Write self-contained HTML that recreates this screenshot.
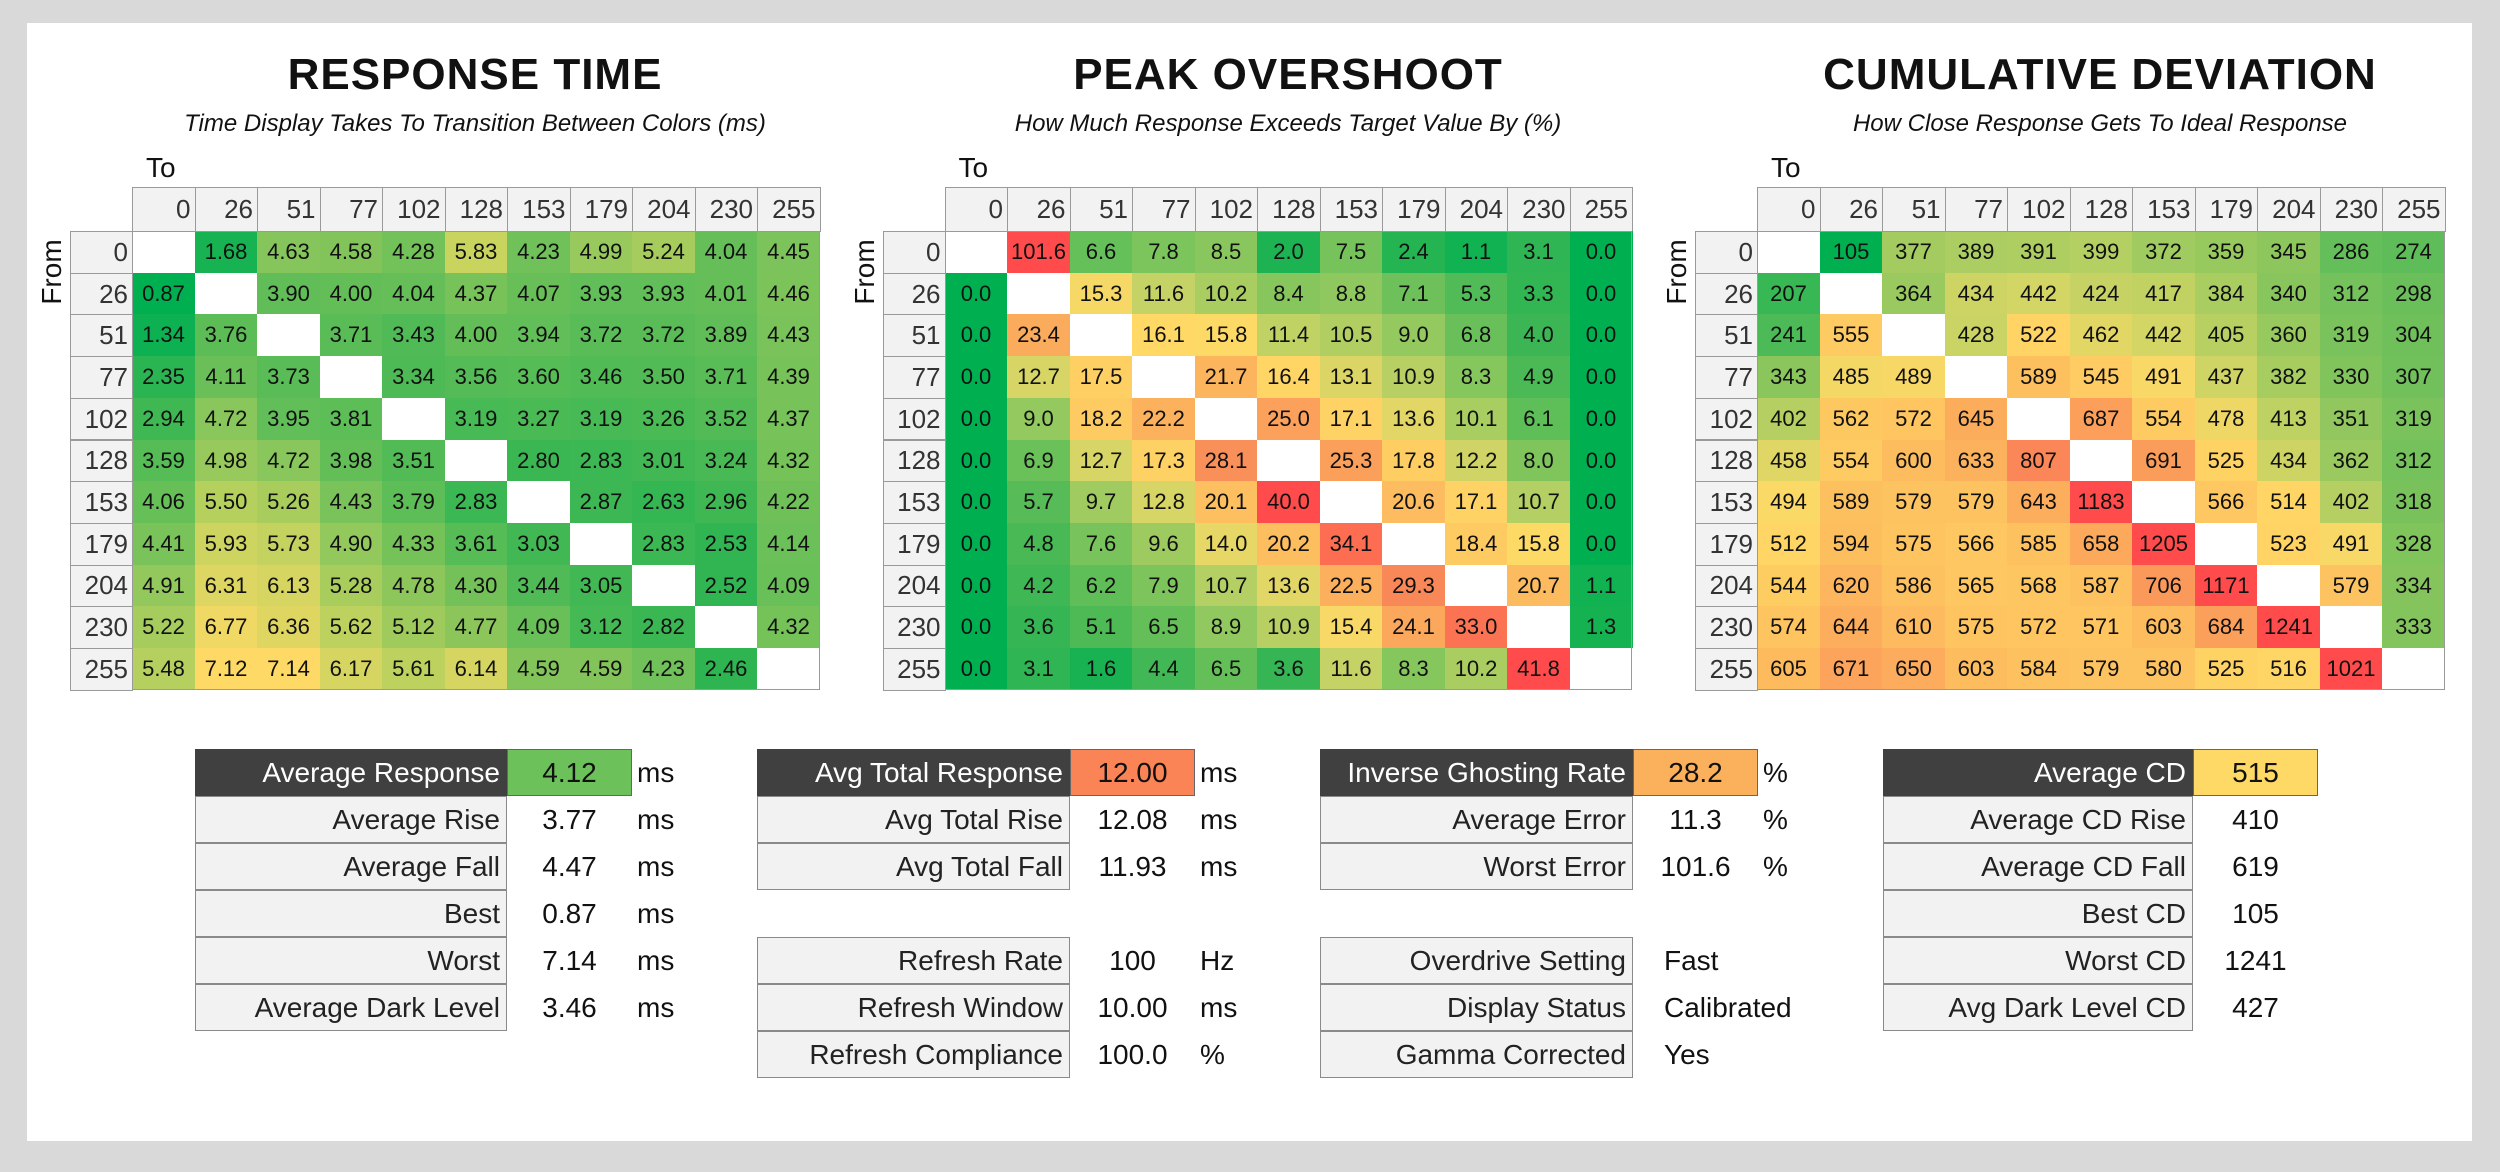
<!DOCTYPE html>
<html><head><meta charset="utf-8"><style>
body{margin:0;width:2500px;height:1172px;background:#d9d9d9;position:relative;overflow:hidden;font-family:"Liberation Sans Narrow","Liberation Sans",sans-serif;color:#111}
#panel{position:absolute;left:27px;top:23px;width:2445px;height:1118px;background:#fff}
.abs{position:absolute}
.title{position:absolute;font-size:44px;font-weight:bold;text-align:center;width:800px;letter-spacing:1px}
.sub{position:absolute;font-size:24px;font-style:italic;text-align:center;width:800px}
.cell{position:absolute;box-sizing:border-box;display:flex;align-items:center;justify-content:center;font-size:22px}
.hd{position:absolute;box-sizing:border-box;background:#f2f2f2;border:1px solid #9a9a9a;font-size:26px;color:#333;display:flex;align-items:center;justify-content:flex-end;padding-right:4px}
.lab{position:absolute;box-sizing:border-box;background:#f2f2f2;border:1px solid #8a8a8a;font-size:28px;color:#222;display:flex;align-items:center;justify-content:flex-end;padding-right:6px;height:47px}
.lab.dark{background:#404040;color:#fff;border-color:#404040}
.val{position:absolute;box-sizing:border-box;font-size:28px;display:flex;align-items:center;justify-content:center;height:47px}
.unit{position:absolute;font-size:28px;height:47px;display:flex;align-items:center}
</style></head><body>
<div id="panel"></div>
<div class="title" style="left:75px;top:50px">RESPONSE TIME</div>
<div class="sub" style="left:75px;top:110px">Time Display Takes To Transition Between Colors (ms)</div>
<div class="title" style="left:888px;top:50px">PEAK OVERSHOOT</div>
<div class="sub" style="left:888px;top:110px">How Much Response Exceeds Target Value By (%)</div>
<div class="title" style="left:1700px;top:50px">CUMULATIVE DEVIATION</div>
<div class="sub" style="left:1700px;top:110px">How Close Response Gets To Ideal Response</div>
<div id="grids"></div>

<!-- Table 1 -->
<div class="lab dark" style="left:195px;top:749px;width:312px">Average Response</div>
<div class="val" style="left:507px;top:749px;width:125px;background:#6cc15a;border:1px solid #666">4.12</div>
<div class="unit" style="left:637px;top:749px">ms</div>
<div class="lab" style="left:195px;top:796px;width:312px">Average Rise</div>
<div class="val" style="left:507px;top:796px;width:125px">3.77</div>
<div class="unit" style="left:637px;top:796px">ms</div>
<div class="lab" style="left:195px;top:843px;width:312px">Average Fall</div>
<div class="val" style="left:507px;top:843px;width:125px">4.47</div>
<div class="unit" style="left:637px;top:843px">ms</div>
<div class="lab" style="left:195px;top:890px;width:312px">Best</div>
<div class="val" style="left:507px;top:890px;width:125px">0.87</div>
<div class="unit" style="left:637px;top:890px">ms</div>
<div class="lab" style="left:195px;top:937px;width:312px">Worst</div>
<div class="val" style="left:507px;top:937px;width:125px">7.14</div>
<div class="unit" style="left:637px;top:937px">ms</div>
<div class="lab" style="left:195px;top:984px;width:312px">Average Dark Level</div>
<div class="val" style="left:507px;top:984px;width:125px">3.46</div>
<div class="unit" style="left:637px;top:984px">ms</div>

<!-- Table 2 -->
<div class="lab dark" style="left:757px;top:749px;width:313px">Avg Total Response</div>
<div class="val" style="left:1070px;top:749px;width:125px;background:#fb8456;border:1px solid #666">12.00</div>
<div class="unit" style="left:1200px;top:749px">ms</div>
<div class="lab" style="left:757px;top:796px;width:313px">Avg Total Rise</div>
<div class="val" style="left:1070px;top:796px;width:125px">12.08</div>
<div class="unit" style="left:1200px;top:796px">ms</div>
<div class="lab" style="left:757px;top:843px;width:313px">Avg Total Fall</div>
<div class="val" style="left:1070px;top:843px;width:125px">11.93</div>
<div class="unit" style="left:1200px;top:843px">ms</div>
<div class="lab" style="left:757px;top:937px;width:313px">Refresh Rate</div>
<div class="val" style="left:1070px;top:937px;width:125px">100</div>
<div class="unit" style="left:1200px;top:937px">Hz</div>
<div class="lab" style="left:757px;top:984px;width:313px">Refresh Window</div>
<div class="val" style="left:1070px;top:984px;width:125px">10.00</div>
<div class="unit" style="left:1200px;top:984px">ms</div>
<div class="lab" style="left:757px;top:1031px;width:313px">Refresh Compliance</div>
<div class="val" style="left:1070px;top:1031px;width:125px">100.0</div>
<div class="unit" style="left:1200px;top:1031px">%</div>

<!-- Table 3 -->
<div class="lab dark" style="left:1320px;top:749px;width:313px">Inverse Ghosting Rate</div>
<div class="val" style="left:1633px;top:749px;width:125px;background:#fbb05c;border:1px solid #666">28.2</div>
<div class="unit" style="left:1763px;top:749px">%</div>
<div class="lab" style="left:1320px;top:796px;width:313px">Average Error</div>
<div class="val" style="left:1633px;top:796px;width:125px">11.3</div>
<div class="unit" style="left:1763px;top:796px">%</div>
<div class="lab" style="left:1320px;top:843px;width:313px">Worst Error</div>
<div class="val" style="left:1633px;top:843px;width:125px">101.6</div>
<div class="unit" style="left:1763px;top:843px">%</div>
<div class="lab" style="left:1320px;top:937px;width:313px">Overdrive Setting</div>
<div class="unit" style="left:1664px;top:937px">Fast</div>
<div class="lab" style="left:1320px;top:984px;width:313px">Display Status</div>
<div class="unit" style="left:1664px;top:984px">Calibrated</div>
<div class="lab" style="left:1320px;top:1031px;width:313px">Gamma Corrected</div>
<div class="unit" style="left:1664px;top:1031px">Yes</div>

<!-- Table 4 -->
<div class="lab dark" style="left:1883px;top:749px;width:310px">Average CD</div>
<div class="val" style="left:2193px;top:749px;width:125px;background:#ffd966;border:1px solid #666">515</div>
<div class="lab" style="left:1883px;top:796px;width:310px">Average CD Rise</div>
<div class="val" style="left:2193px;top:796px;width:125px">410</div>
<div class="lab" style="left:1883px;top:843px;width:310px">Average CD Fall</div>
<div class="val" style="left:2193px;top:843px;width:125px">619</div>
<div class="lab" style="left:1883px;top:890px;width:310px">Best CD</div>
<div class="val" style="left:2193px;top:890px;width:125px">105</div>
<div class="lab" style="left:1883px;top:937px;width:310px">Worst CD</div>
<div class="val" style="left:2193px;top:937px;width:125px">1241</div>
<div class="lab" style="left:1883px;top:984px;width:310px">Avg Dark Level CD</div>
<div class="val" style="left:2193px;top:984px;width:125px">427</div>

<script>
const levels = ["0","26","51","77","102","128","153","179","204","230","255"];
const rtValues = [
[null,1.68,4.63,4.58,4.28,5.83,4.23,4.99,5.24,4.04,4.45],
[0.87,null,3.90,4.00,4.04,4.37,4.07,3.93,3.93,4.01,4.46],
[1.34,3.76,null,3.71,3.43,4.00,3.94,3.72,3.72,3.89,4.43],
[2.35,4.11,3.73,null,3.34,3.56,3.60,3.46,3.50,3.71,4.39],
[2.94,4.72,3.95,3.81,null,3.19,3.27,3.19,3.26,3.52,4.37],
[3.59,4.98,4.72,3.98,3.51,null,2.80,2.83,3.01,3.24,4.32],
[4.06,5.50,5.26,4.43,3.79,2.83,null,2.87,2.63,2.96,4.22],
[4.41,5.93,5.73,4.90,4.33,3.61,3.03,null,2.83,2.53,4.14],
[4.91,6.31,6.13,5.28,4.78,4.30,3.44,3.05,null,2.52,4.09],
[5.22,6.77,6.36,5.62,5.12,4.77,4.09,3.12,2.82,null,4.32],
[5.48,7.12,7.14,6.17,5.61,6.14,4.59,4.59,4.23,2.46,null]];
const osValues = [
[null,101.6,6.6,7.8,8.5,2.0,7.5,2.4,1.1,3.1,0.0],
[0.0,null,15.3,11.6,10.2,8.4,8.8,7.1,5.3,3.3,0.0],
[0.0,23.4,null,16.1,15.8,11.4,10.5,9.0,6.8,4.0,0.0],
[0.0,12.7,17.5,null,21.7,16.4,13.1,10.9,8.3,4.9,0.0],
[0.0,9.0,18.2,22.2,null,25.0,17.1,13.6,10.1,6.1,0.0],
[0.0,6.9,12.7,17.3,28.1,null,25.3,17.8,12.2,8.0,0.0],
[0.0,5.7,9.7,12.8,20.1,40.0,null,20.6,17.1,10.7,0.0],
[0.0,4.8,7.6,9.6,14.0,20.2,34.1,null,18.4,15.8,0.0],
[0.0,4.2,6.2,7.9,10.7,13.6,22.5,29.3,null,20.7,1.1],
[0.0,3.6,5.1,6.5,8.9,10.9,15.4,24.1,33.0,null,1.3],
[0.0,3.1,1.6,4.4,6.5,3.6,11.6,8.3,10.2,41.8,null]];
const cdValues = [
[null,105,377,389,391,399,372,359,345,286,274],
[207,null,364,434,442,424,417,384,340,312,298],
[241,555,null,428,522,462,442,405,360,319,304],
[343,485,489,null,589,545,491,437,382,330,307],
[402,562,572,645,null,687,554,478,413,351,319],
[458,554,600,633,807,null,691,525,434,362,312],
[494,589,579,579,643,1183,null,566,514,402,318],
[512,594,575,566,585,658,1205,null,523,491,328],
[544,620,586,565,568,587,706,1171,null,579,334],
[574,644,610,575,572,571,603,684,1241,null,333],
[605,671,650,603,584,579,580,525,516,1021,null]];

const rtStops=[[0.87,'#00b050'],[2.5,'#2fb552'],[4.0,'#64be58'],[5.0,'#98c95c'],[5.8,'#c8d45f'],[7.14,'#ffd966']];
const osStops=[[0,'#00b050'],[4,'#3cb654'],[7,'#6cc15a'],[12,'#cdd466'],[16,'#ffd966'],[22,'#fcb35d'],[29,'#f98a58'],[40,'#ff4b4b']];
const cdStops=[[105,'#00b050'],[300,'#6cbf5a'],[430,'#cad464'],[500,'#ffd966'],[600,'#fdbd5e'],[700,'#fb9a5a'],[820,'#fb8558'],[1000,'#ff4b4b']];

function hex(c){return [1,3,5].map(i=>parseInt(c.substr(i,2),16));}
function colorFor(v,stops){
  if(v<=stops[0][0])return stops[0][1];
  for(let i=1;i<stops.length;i++){
    if(v<=stops[i][0]){
      const t=(v-stops[i-1][0])/(stops[i][0]-stops[i-1][0]);
      const a=hex(stops[i-1][1]),b=hex(stops[i][1]);
      return 'rgb('+a.map((x,k)=>Math.round(x+(b[k]-x)*t)).join(',')+')';
    }
  }
  return stops[stops.length-1][1];
}
const COLW=62.5, ROWH=41.7, HDRTOP=187, HDRH=44;
function colX(g,j){return g.x+j*COLW;}
function rowY(i){return HDRTOP+HDRH+i*ROWH;}
function fmt(v,d){return v.toFixed(d);}

function buildGrid(g){
  const root=document.getElementById('grids');
  const frame=document.createElement('div');
  frame.className='abs';
  
  
  root.appendChild(frame);
  const to=document.createElement('div');
  to.className='abs';to.textContent='To';
  to.style.cssText='left:'+(g.x+14)+'px;top:152px;font-size:28px;';
  
  
  frame.appendChild(to);
  const fr=document.createElement('div');
  fr.className='abs';fr.textContent='From';
  fr.style.cssText='left:'+(g.x-130)+'px;top:256px;width:100px;text-align:center;font-size:28px;transform:rotate(-90deg);';
  
  
  frame.appendChild(fr);
  levels.forEach((lv,j)=>{
    const h=document.createElement('div');
    h.className='hd';h.textContent=lv;
    h.style.cssText='left:'+colX(g,j)+'px;top:'+HDRTOP+'px;width:'+(COLW+1)+'px;height:'+(HDRH+1)+'px;';
    
    
    frame.appendChild(h);
  });
  levels.forEach((lv,i)=>{
    const r=document.createElement('div');
    r.className='hd';r.textContent=lv;
    r.style.cssText='left:'+(g.x-62)+'px;top:'+rowY(i)+'px;width:63px;height:'+(ROWH+1)+'px;';
    
    
    frame.appendChild(r);
    g.values[i].forEach((v,j)=>{
      const c=document.createElement('div');
      c.className='cell';
      c.style.left=colX(g,j)+'px';c.style.top=rowY(i)+'px';
      c.style.width=(COLW+0.5)+'px';c.style.height=(ROWH+0.5)+'px';
      if(v===null){c.style.background='#fff';}
      else{c.style.background=colorFor(v,g.stops);c.textContent=fmt(v,g.dec);}
      
      
      frame.appendChild(c);
    });
  });
  const b=document.createElement('div');
  b.className='abs';
  b.style.cssText='left:'+g.x+'px;top:'+rowY(0)+'px;width:'+(11*COLW)+'px;height:'+(11*ROWH)+'px;border:1px solid #9a9a9a;box-sizing:border-box;pointer-events:none;';
  
  
  frame.appendChild(b);
}
buildGrid({name:'response-time',x:132,values:rtValues,stops:rtStops,dec:2});
buildGrid({name:'peak-overshoot',x:944.5,values:osValues,stops:osStops,dec:1});
buildGrid({name:'cumulative-deviation',x:1757,values:cdValues,stops:cdStops,dec:0});
</script>
</body></html>
